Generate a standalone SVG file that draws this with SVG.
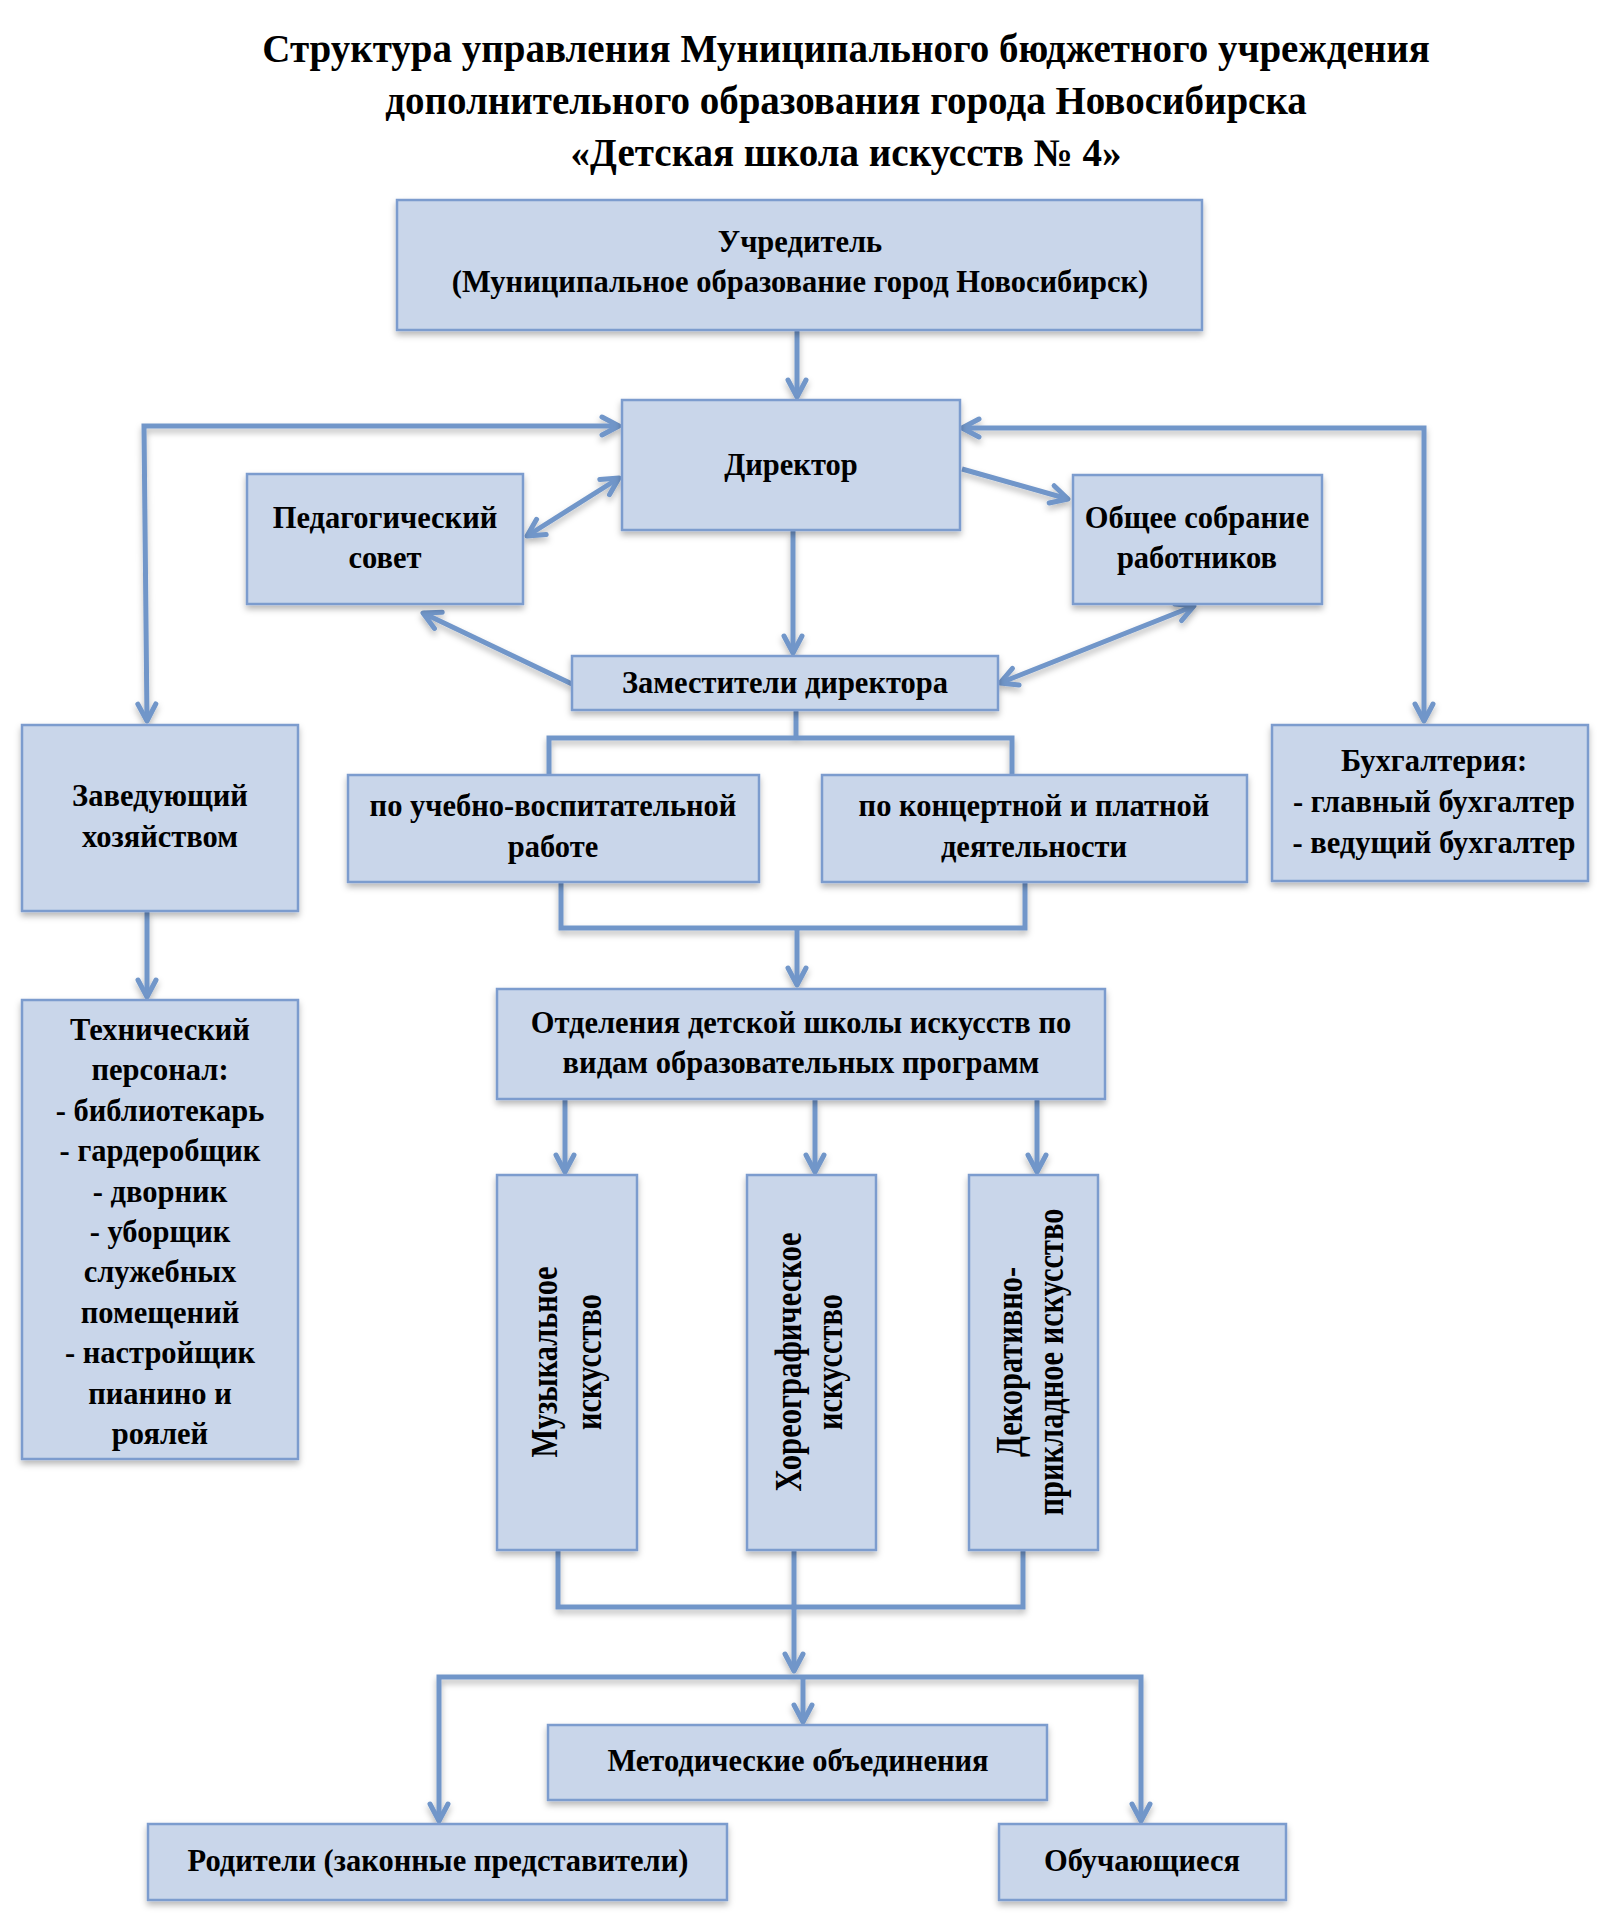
<svg xmlns="http://www.w3.org/2000/svg" width="1614" height="1929" viewBox="0 0 1614 1929">
<style>
.box{fill:#c9d6ea;stroke:#7b9cce;stroke-width:2.5}
.t{font-family:"Liberation Serif","Times New Roman",serif;font-weight:bold;font-size:30.5px;fill:#000;text-anchor:middle}
.title{font-family:"Liberation Serif","Times New Roman",serif;font-weight:bold;font-size:39px;fill:#000;text-anchor:middle}
.vt{font-family:"Liberation Serif","Times New Roman",serif;font-weight:bold;font-size:30px;fill:#000;text-anchor:middle}
.c{fill:none;stroke:#7196c9;stroke-width:5;stroke-linejoin:miter}
</style>
<defs>
<filter id="sh" x="-10%" y="-10%" width="120%" height="130%">
<feDropShadow dx="0" dy="4" stdDeviation="3" flood-color="#000" flood-opacity="0.28"/>
</filter>
<marker id="ar" viewBox="-25 -15 30 30" refX="0" refY="0" markerWidth="30" markerHeight="30" markerUnits="userSpaceOnUse" orient="auto-start-reverse">
<path d="M-17,-9 L0,0 L-17,9" fill="none" stroke="#7196c9" stroke-width="5" stroke-linecap="round" stroke-linejoin="round"/>
</marker>
</defs>
<rect width="1614" height="1929" fill="#fff"/>

<g id="title">
<text class="title" x="846" y="62">Структура управления Муниципального бюджетного учреждения</text>
<text class="title" x="846" y="114">дополнительного образования города Новосибирска</text>
<text class="title" x="846" y="166">«Детская школа искусств № 4»</text>
</g>

<g id="connectors" filter="url(#sh)">
<path class="c" d="M797,331 L797,397" marker-end="url(#ar)"/>
<path class="c" d="M619,426 L144,426 L147,721" marker-start="url(#ar)" marker-end="url(#ar)"/>
<path class="c" d="M962,428 L1424,428 L1424,721" marker-start="url(#ar)" marker-end="url(#ar)"/>
<path class="c" d="M619,478 L527,536" marker-start="url(#ar)" marker-end="url(#ar)"/>
<path class="c" d="M962,469 L1068,499" marker-end="url(#ar)"/>
<path class="c" d="M793,531 L793,653" marker-end="url(#ar)"/>
<path class="c" d="M572,684 L423,613" marker-end="url(#ar)"/>
<path class="c" d="M1000,683 L1194,606" marker-start="url(#ar)" marker-end="url(#ar)"/>
<path class="c" d="M796,711 L796,738"/>
<path class="c" d="M549,774 L549,738 L1012,738 L1012,774"/>
<path class="c" d="M561,883 L561,928 L1025,928 L1025,883"/>
<path class="c" d="M797,928 L797,985" marker-end="url(#ar)"/>
<path class="c" d="M147,911 L147,997" marker-end="url(#ar)"/>
<path class="c" d="M565,1100 L565,1172" marker-end="url(#ar)"/>
<path class="c" d="M815,1100 L815,1172" marker-end="url(#ar)"/>
<path class="c" d="M1037,1100 L1037,1172" marker-end="url(#ar)"/>
<path class="c" d="M558,1551 L558,1607 L1023,1607 L1023,1551"/>
<path class="c" d="M794,1551 L794,1671" marker-end="url(#ar)"/>
<path class="c" d="M439,1821 L439,1677 L1141,1677 L1141,1821" marker-start="url(#ar)" marker-end="url(#ar)"/>
<path class="c" d="M803,1677 L803,1722" marker-end="url(#ar)"/>
</g>

<g id="uchreditel">
<rect class="box" x="397" y="200" width="805" height="130" filter="url(#sh)"/>
<text class="t" x="800" y="252">Учредитель</text>
<text class="t" x="800" y="292">(Муниципальное образование город Новосибирск)</text>
</g>

<g id="direktor">
<rect class="box" x="622" y="400" width="338" height="130" filter="url(#sh)"/>
<text class="t" x="791" y="475">Директор</text>
</g>

<g id="pedsovet">
<rect class="box" x="247" y="474" width="276" height="130" filter="url(#sh)"/>
<text class="t" x="385" y="528">Педагогический</text>
<text class="t" x="385" y="568">совет</text>
</g>

<g id="sobranie">
<rect class="box" x="1073" y="475" width="249" height="129" filter="url(#sh)"/>
<text class="t" x="1197" y="528">Общее собрание</text>
<text class="t" x="1197" y="568">работников</text>
</g>

<g id="zamestiteli">
<rect class="box" x="572" y="656" width="426" height="54" filter="url(#sh)"/>
<text class="t" x="785" y="693">Заместители директора</text>
</g>

<g id="zavhoz">
<rect class="box" x="22" y="725" width="276" height="186" filter="url(#sh)"/>
<text class="t" x="160" y="806">Заведующий</text>
<text class="t" x="160" y="847">хозяйством</text>
</g>

<g id="uvr">
<rect class="box" x="348" y="775" width="411" height="107" filter="url(#sh)"/>
<text class="t" x="553" y="816">по учебно-воспитательной</text>
<text class="t" x="553" y="857">работе</text>
</g>

<g id="koncert">
<rect class="box" x="822" y="775" width="425" height="107" filter="url(#sh)"/>
<text class="t" x="1034" y="816">по концертной и платной</text>
<text class="t" x="1034" y="857">деятельности</text>
</g>

<g id="buh">
<rect class="box" x="1272" y="725" width="316" height="156" filter="url(#sh)"/>
<text class="t" x="1434" y="771">Бухгалтерия:</text>
<text class="t" x="1434" y="812">- главный бухгалтер</text>
<text class="t" x="1434" y="853">- ведущий бухгалтер</text>
</g>

<g id="tehpersonal">
<rect class="box" x="22" y="1000" width="276" height="459" filter="url(#sh)"/>
<text class="t" x="160" y="1040">Технический</text>
<text class="t" x="160" y="1080">персонал:</text>
<text class="t" x="160" y="1121">- библиотекарь</text>
<text class="t" x="160" y="1161">- гардеробщик</text>
<text class="t" x="160" y="1202">- дворник</text>
<text class="t" x="160" y="1242">- уборщик</text>
<text class="t" x="160" y="1282">служебных</text>
<text class="t" x="160" y="1323">помещений</text>
<text class="t" x="160" y="1363">- настройщик</text>
<text class="t" x="160" y="1404">пианино и</text>
<text class="t" x="160" y="1444">роялей</text>
</g>

<g id="otdeleniya">
<rect class="box" x="497" y="989" width="608" height="110" filter="url(#sh)"/>
<text class="t" x="801" y="1033">Отделения детской школы искусств по</text>
<text class="t" x="801" y="1073">видам образовательных программ</text>
</g>

<g id="muz">
<rect class="box" x="497" y="1175" width="140" height="375" filter="url(#sh)"/>
<g transform="translate(567,1362) rotate(-90)">
<text class="vt" x="0" y="-8" textLength="191" lengthAdjust="spacingAndGlyphs" transform="scale(1,1.25)">Музыкальное</text>
<text class="vt" x="0" y="27" textLength="136" lengthAdjust="spacingAndGlyphs" transform="scale(1,1.25)">искусство</text>
</g>
</g>

<g id="horeo">
<rect class="box" x="747" y="1175" width="129" height="375" filter="url(#sh)"/>
<g transform="translate(811,1362) rotate(-90)">
<text class="vt" x="0" y="-8" textLength="259" lengthAdjust="spacingAndGlyphs" transform="scale(1,1.25)">Хореографическое</text>
<text class="vt" x="0" y="25" textLength="136" lengthAdjust="spacingAndGlyphs" transform="scale(1,1.25)">искусство</text>
</g>
</g>

<g id="dekor">
<rect class="box" x="969" y="1175" width="129" height="375" filter="url(#sh)"/>
<g transform="translate(1033,1362) rotate(-90)">
<text class="vt" x="0" y="-9" textLength="190" lengthAdjust="spacingAndGlyphs" transform="scale(1,1.25)">Декоративно-</text>
<text class="vt" x="0" y="24" textLength="307" lengthAdjust="spacingAndGlyphs" transform="scale(1,1.25)">прикладное искусство</text>
</g>
</g>

<g id="metod">
<rect class="box" x="548" y="1725" width="499" height="75" filter="url(#sh)"/>
<text class="t" x="798" y="1771">Методические объединения</text>
</g>

<g id="roditeli">
<rect class="box" x="148" y="1824" width="579" height="76" filter="url(#sh)"/>
<text class="t" x="438" y="1871">Родители (законные представители)</text>
</g>

<g id="obuch">
<rect class="box" x="999" y="1824" width="287" height="76" filter="url(#sh)"/>
<text class="t" x="1142" y="1871">Обучающиеся</text>
</g>
</svg>
